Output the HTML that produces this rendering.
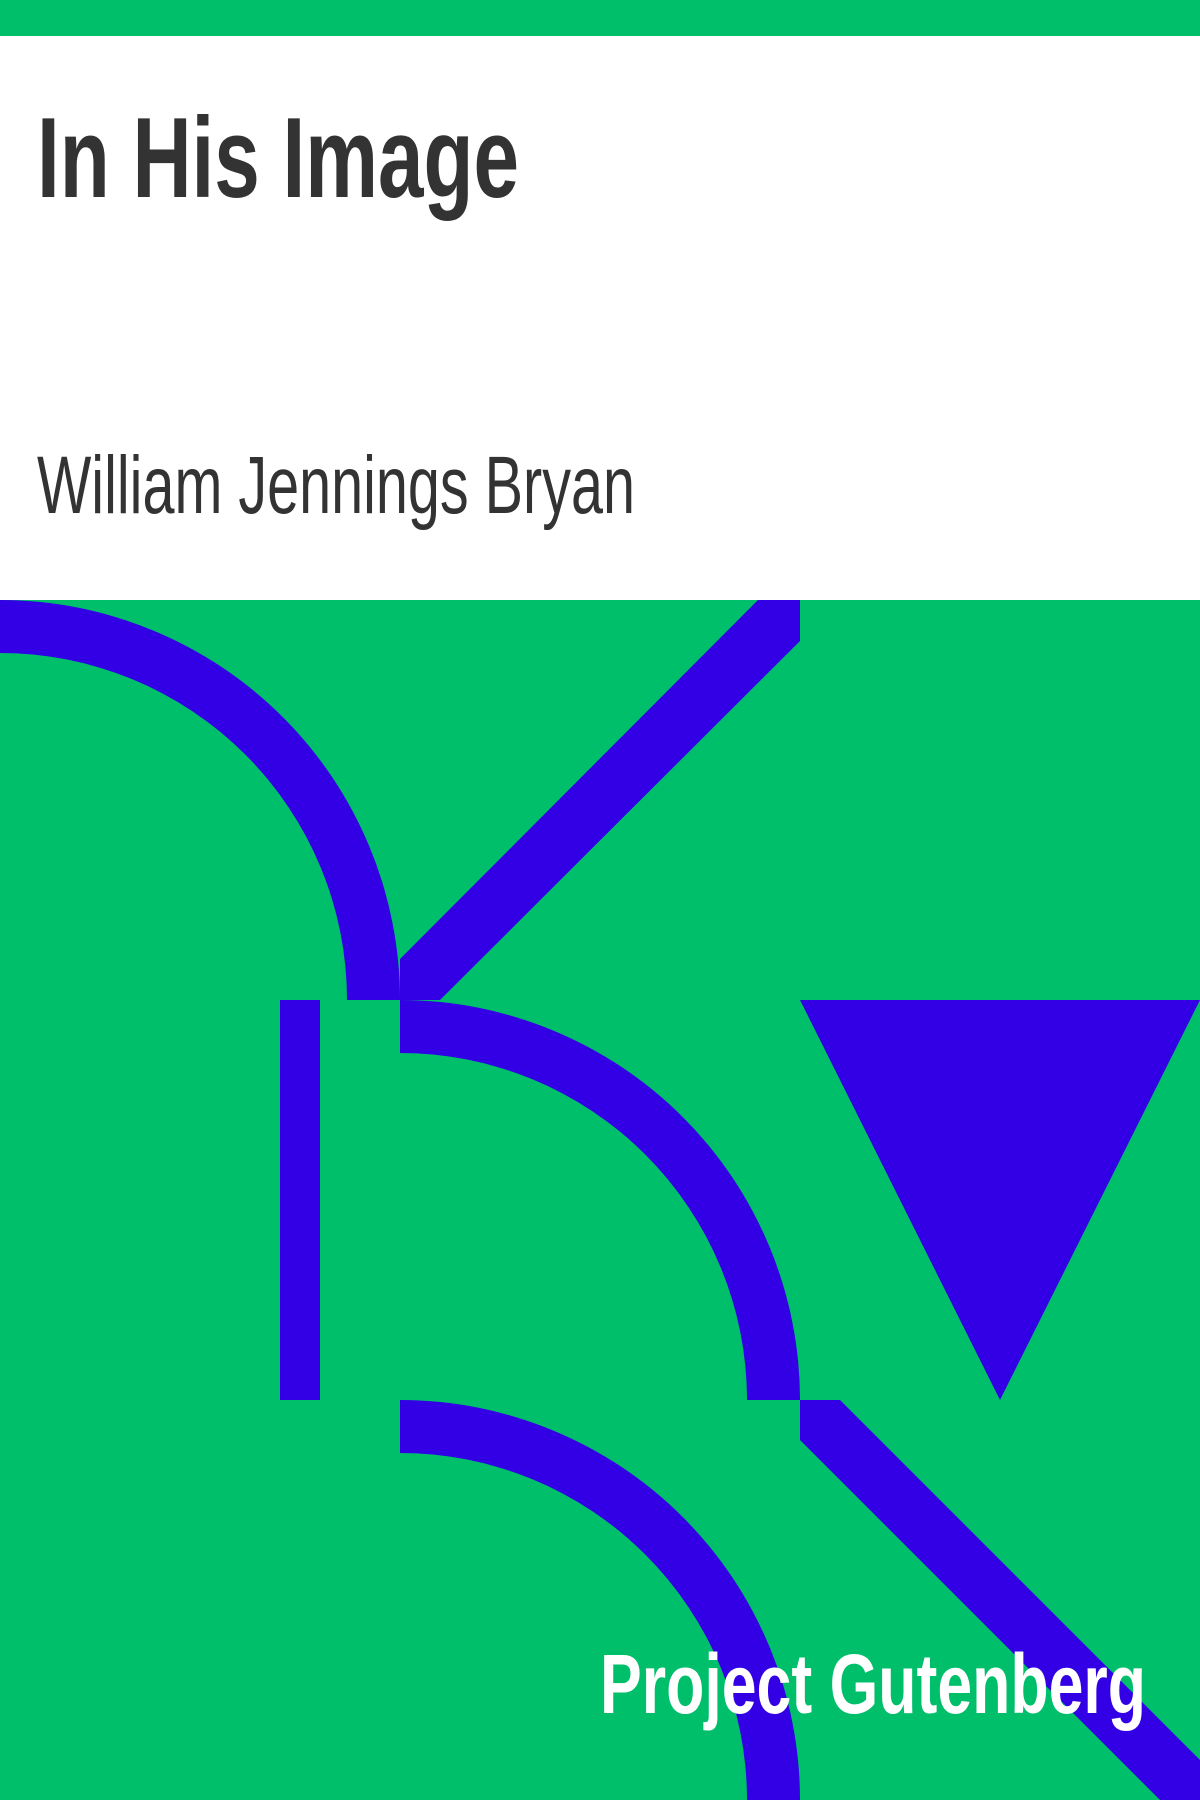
<!DOCTYPE html>
<html>
<head>
<meta charset="utf-8">
<style>
  html,body{margin:0;padding:0;background:#fff;}
  svg{display:block;}
</style>
</head>
<body>
<svg width="1200" height="1800" viewBox="0 0 1200 1800" xmlns="http://www.w3.org/2000/svg">
  <rect x="0" y="0" width="1200" height="36" fill="#00bf6b"/>
  <rect x="0" y="36" width="1200" height="564" fill="#ffffff"/>
  <text x="37" y="197" font-family="Liberation Sans, sans-serif" font-weight="bold" font-size="114" fill="#333333" textLength="482" lengthAdjust="spacingAndGlyphs">In His Image</text>
  <text x="37" y="513" font-family="Liberation Sans, sans-serif" font-size="82" fill="#333333" textLength="598" lengthAdjust="spacingAndGlyphs">William Jennings Bryan</text>

  <rect x="0" y="600" width="1200" height="1200" fill="#00bf6b"/>
  <g fill="#3300e6">
    <path d="M0,600 A400,400 0 0 1 400,1000 L347,1000 A347,347 0 0 0 0,653 Z"/>
    <polygon points="758,600 800,600 800,641 440,1000 400,1000 400,959"/>
    <rect x="280" y="1000" width="40" height="400"/>
    <path d="M400,1000 A400,400 0 0 1 800,1400 L747,1400 A347,347 0 0 0 400,1053 Z"/>
    <polygon points="800,1000 1200,1000 1000,1400"/>
    <polygon points="800,1400 840,1400 1200,1760 1200,1800 1160,1800 800,1440"/>
    <path d="M400,1400 A400,400 0 0 1 800,1800 L747,1800 A347,347 0 0 0 400,1453 Z"/>
  </g>
  <text x="600" y="1713" font-family="Liberation Sans, sans-serif" font-weight="bold" font-size="84" fill="#ffffff" textLength="546" lengthAdjust="spacingAndGlyphs">Project Gutenberg</text>
</svg>
</body>
</html>
